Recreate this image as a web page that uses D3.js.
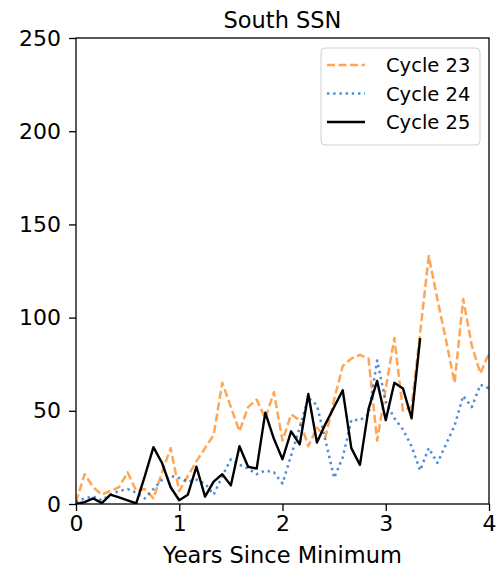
<!DOCTYPE html>
<html>
<head>
<meta charset="utf-8">
<script src="https://cdn.jsdelivr.net/npm/d3@7"></script>
<style>
  body { margin: 0; background: #fff; }
  svg { font-family: "DejaVu Sans", sans-serif; }
</style>
</head>
<body>
<svg id="chart" width="496" height="567"></svg>
<script>
// monthly South SSN values, counted from solar minimum
var cycle23 = [1, 16, 9, 5, 7, 9, 17, 7, 8, 3,
               17, 30, 7, 15, 23, 30, 37, 65, 52, 39,
               52, 56, 46, 60, 34, 48, 45, 31, 41, 36,
               56, 74, 78, 80, 78, 34, 62, 89, 50, 52,
               92, 133, 110, 88, 65, 110, 85, 70, 81];
var cycle24 = [1, 3, 4, 2, 5, 7, 8, 6, 3, 8,
               13, 15, 14, 12, 13, 11, 5, 15, 24, 21,
               19, 16, 18, 17, 11, 26, 41, 57, 53, 34,
               14, 25, 45, 45, 48, 77, 55, 46, 40, 31,
               18, 30, 22, 32, 42, 58, 52, 64, 62];
var cycle25 = [0, 1, 3, 0.5, 5, 3.5, 2, 0.3, 15, 30.5,
               22, 9, 2, 5, 20, 4, 12, 16, 10, 31,
               20, 19, 49, 35, 24, 39, 32, 59, 33, 43,
               52, 61, 30, 21, 51, 66, 45, 65, 62, 46, 89];

var seriesNames = ["Cycle 23", "Cycle 24", "Cycle 25"];
var xTicks = [0, 1, 2, 3, 4];
var yTicks = [0, 50, 100, 150, 200, 250];
var monthsPerYear = 12;

var svg = d3.select("#chart"),
    margin = {top: 38, right: 7, bottom: 63, left: 76},
    width = +svg.attr("width") - margin.left - margin.right,
    height = +svg.attr("height") - margin.top - margin.bottom;

var g = svg.append("g")
    .attr("transform", "translate(" + margin.left + "," + margin.top + ")");

var x = d3.scaleLinear().domain([0, 4]).range([0, width]);
var y = d3.scaleLinear().domain([0, 250]).range([height, 0]);

var line = d3.line()
    .x(function(d, i) { return x(i / monthsPerYear); })
    .y(function(d) { return y(d); });

g.append("defs").append("clipPath")
    .attr("id", "clip")
    .append("rect")
    .attr("width", width)
    .attr("height", height);

var styles = [
    {data: cycle23, color: "#ff7f0e", opacity: 0.7, dash: "8,3.5", width: 2.5},
    {data: cycle24, color: "#1f6fd0", opacity: 0.8, dash: "2.4,3.8", width: 2.5},
    {data: cycle25, color: "#000", opacity: 1, dash: null, width: 2.4}
];

var plot = g.append("g").attr("clip-path", "url(#clip)");
styles.forEach(function(s) {
    plot.append("path")
        .datum(s.data)
        .attr("fill", "none")
        .attr("stroke", s.color)
        .attr("stroke-opacity", s.opacity)
        .attr("stroke-width", s.width)
        .attr("stroke-dasharray", s.dash)
        .attr("stroke-linejoin", "round")
        .attr("d", line);
});

// frame
g.append("rect")
    .attr("width", width)
    .attr("height", height)
    .attr("fill", "none")
    .attr("stroke", "#000")
    .attr("stroke-width", 1.3);

var xAxis = g.append("g")
    .attr("transform", "translate(0," + height + ")")
    .call(d3.axisBottom(x).tickValues(xTicks).tickFormat(d3.format("d")).tickSize(7).tickPadding(4));
var yAxis = g.append("g")
    .call(d3.axisLeft(y).tickValues(yTicks).tickFormat(d3.format("d")).tickSize(7).tickPadding(8));

[xAxis, yAxis].forEach(function(a) {
    a.select(".domain").remove();
    a.selectAll("line").attr("stroke", "#000").attr("stroke-width", 1.3);
    a.selectAll("text").attr("fill", "#000").style("font-size", "22px").style("font-family", "DejaVu Sans");
});

svg.append("text")
    .attr("x", margin.left + width / 2)
    .attr("y", 28)
    .attr("text-anchor", "middle")
    .style("font-size", "22.5px")
    .text("South SSN");

svg.append("text")
    .attr("x", margin.left + width / 2)
    .attr("y", 563)
    .attr("text-anchor", "middle")
    .style("font-size", "22.5px")
    .text("Years Since Minimum");

// legend
var legend = svg.append("g").attr("transform", "translate(321,48)");
legend.append("rect")
    .attr("width", 159)
    .attr("height", 97)
    .attr("rx", 4)
    .attr("fill", "#fff")
    .attr("fill-opacity", 0.8)
    .attr("stroke", "#d0d0d0")
    .attr("stroke-width", 1);

seriesNames.forEach(function(name, i) {
    var s = styles[i];
    var row = legend.append("g").attr("transform", "translate(0," + (17 + i * 28.5) + ")");
    row.append("line")
        .attr("x1", 6).attr("x2", 44)
        .attr("stroke", s.color)
        .attr("stroke-opacity", s.opacity)
        .attr("stroke-width", s.width)
        .attr("stroke-dasharray", s.dash);
    row.append("text")
        .attr("x", 65)
        .attr("y", 7)
        .style("font-size", "19.5px")
        .text(name);
});
</script>
</body>
</html>
